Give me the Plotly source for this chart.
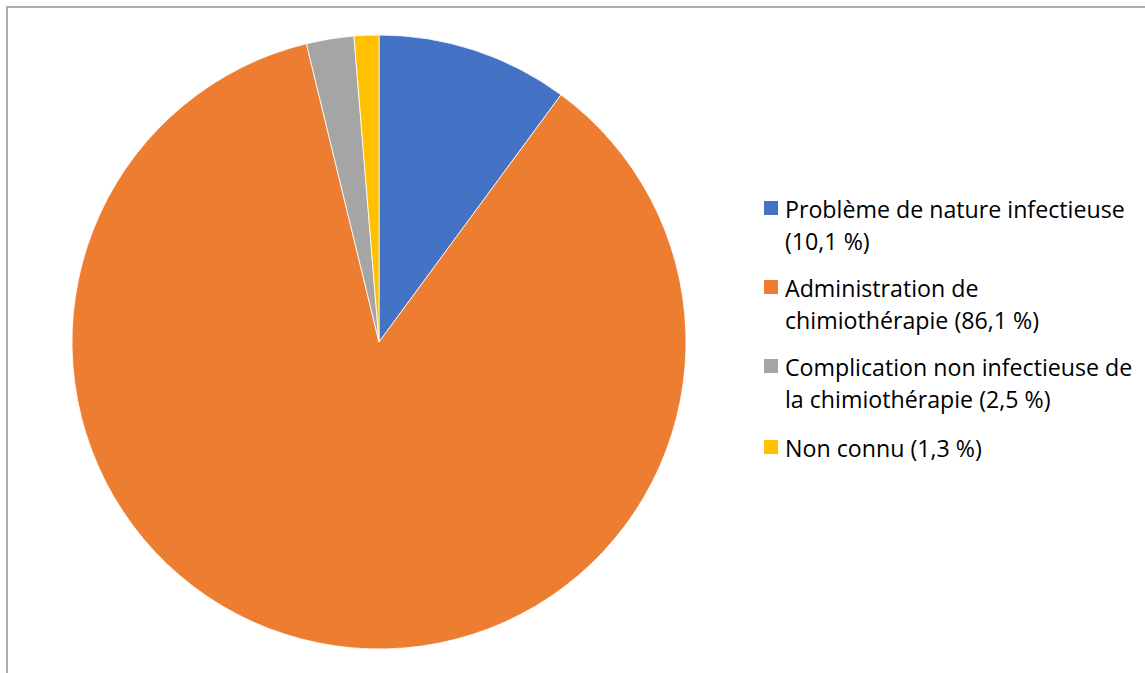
import plotly.graph_objects as go

# Data
categories = [
    "Problème de nature infectieuse",
    "Administration de chimiothérapie",
    "Complication non infectieuse de la chimiothérapie",
    "Non connu",
]
values = [10.1, 86.1, 2.5, 1.3]
legend_lines = [
    ["Problème de nature infectieuse", "(10,1 %)"],
    ["Administration de", "chimiothérapie (86,1 %)"],
    ["Complication non infectieuse de", "la chimiothérapie (2,5 %)"],
    ["Non connu (1,3 %)"],
]
colors = ["#4472C4", "#ED7D31", "#A5A5A5", "#FFC000"]

W, H = 1145, 673


def px_x(x):
    return x / W


def px_y(y):
    return 1 - y / H


fig = go.Figure()
fig.add_trace(go.Pie(
    labels=categories,
    values=values,
    sort=False,
    direction="clockwise",
    rotation=0,
    textinfo="none",
    marker=dict(colors=colors, line=dict(color="white", width=0.8)),
    domain=dict(x=[px_x(72), px_x(686)], y=[px_y(649), px_y(35)]),
    showlegend=False,
))

shapes = [
    # chart frame
    dict(type="rect", xref="paper", yref="paper",
         x0=px_x(7), x1=px_x(W + 20), y0=px_y(H + 20), y1=px_y(7),
         line=dict(color="#ADADAD", width=2), fillcolor="rgba(0,0,0,0)"),
]
annotations = []

# Legend: swatch + wrapped label, one entry per category
first_line_y = [208, 287, 366, 447]
line_gap = 32
font = dict(family="Open Sans, sans-serif", size=23.2, color="#000000")
for i, lines in enumerate(legend_lines):
    yc = first_line_y[i]
    shapes.append(dict(type="rect", xref="paper", yref="paper",
                       x0=px_x(764), x1=px_x(778), y0=px_y(yc + 7), y1=px_y(yc - 7),
                       line=dict(width=0), fillcolor=colors[i]))
    for j, txt in enumerate(lines):
        annotations.append(dict(
            x=px_x(783), y=px_y(yc + 1 + j * line_gap), xref="paper", yref="paper",
            text=txt, showarrow=False, xanchor="left", yanchor="middle",
            align="left", font=font,
        ))

fig.update_layout(
    width=W, height=H, autosize=False,
    margin=dict(l=0, r=0, t=0, b=0),
    paper_bgcolor="white", plot_bgcolor="white",
    shapes=shapes, annotations=annotations,
)

fig.write_html("out.html")
